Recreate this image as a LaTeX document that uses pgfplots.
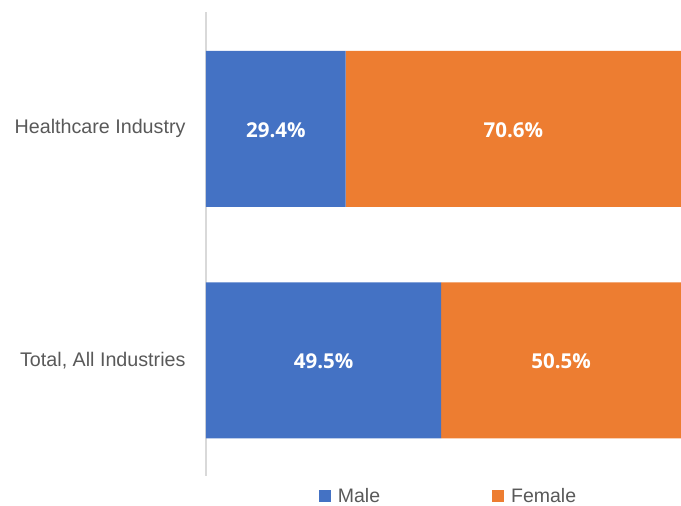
\documentclass[border=0pt]{standalone}
\usepackage{fontspec}
\setmainfont{Liberation Sans}
\newfontfamily\lblfont{Open Sans}
\usepackage{pgfplots}
\pgfplotsset{compat=1.18}
\definecolor{male}{HTML}{4472C4}
\definecolor{female}{HTML}{ED7D31}
\definecolor{txtgray}{HTML}{595959}
\definecolor{axgray}{HTML}{D9D9D9}
\begin{document}
\begin{tikzpicture}
\begin{axis}[
    name=ax,
    scale only axis,
    width=475pt, height=464pt,
    xbar stacked, bar width=156pt,
    xmin=0, xmax=100,
    ymin=-0.5, ymax=1.505,
    ytick={0,1},
    yticklabels={{Total, All Industries},{Healthcare Industry}},
    yticklabel style={font=\fontsize{19.7}{22}\selectfont, text=txtgray, xshift=-17pt},
    major tick length=0pt,
    axis x line=none,
    axis y line*=left,
    y axis line style={draw=axgray, line width=2pt},
    legend columns=2,
    legend style={at={(0.5,-0.017)}, anchor=north, draw=none, xshift=5pt,
        font=\fontsize{19.5}{22}\selectfont, text=txtgray,
        /tikz/every even column/.append style={column sep=110pt}},
    legend image code/.code={\fill (0pt,-6pt) rectangle (12pt,6pt); \path (17pt,0pt);},
    clip=false,
]
\addplot[fill=male, draw=none] coordinates {(49.5,0) (29.4,1)};
\addplot[fill=female, draw=none] coordinates {(50.5,0) (70.6,1)};
\legend{Male, Female}
\coordinate (h1) at (axis cs:14.7,1);
\coordinate (h2) at (axis cs:64.7,1);
\coordinate (t1) at (axis cs:24.75,0);
\coordinate (t2) at (axis cs:74.75,0);
\end{axis}
\tikzset{dl/.style={text=white, font=\lblfont\bfseries\fontsize{20.5}{24}\selectfont}}
\node[dl] at ([yshift=-1pt]h1) {29.4\%};
\node[dl] at ([yshift=-1pt]h2) {70.6\%};
\node[dl] at ([yshift=-1pt]t1) {49.5\%};
\node[dl] at ([yshift=-1pt]t2) {50.5\%};
\pgfresetboundingbox
\useasboundingbox ([xshift=-206pt,yshift=12pt]ax.north west) rectangle ([yshift=-30pt]ax.south east);
\end{tikzpicture}
\end{document}
